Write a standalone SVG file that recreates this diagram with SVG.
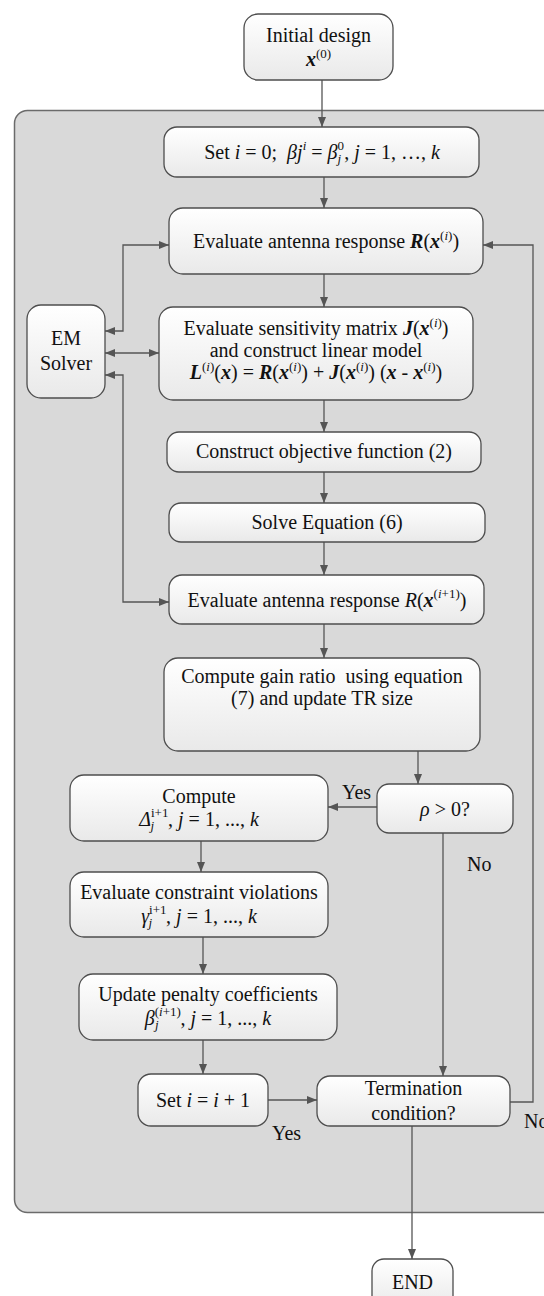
<svg xmlns="http://www.w3.org/2000/svg" width="544" height="1296" viewBox="0 0 544 1296">
<style>
.t{font-family:"Liberation Serif","Times New Roman",serif;font-size:20px;fill:#111;}
.s{font-size:13px;}
.bi{font-weight:bold;font-style:italic;}
.i{font-style:italic;}
.node rect{fill:url(#g);stroke:#4d4d4d;stroke-width:1.3;}
.c path{fill:none;stroke:#555;stroke-width:1.3;}
.e{marker-end:url(#ah);}
.b{marker-start:url(#ah);marker-end:url(#ah);}
</style>
<defs>
<linearGradient id="g" x1="0" y1="0" x2="0" y2="1">
<stop offset="0" stop-color="#ffffff"/>
<stop offset="1" stop-color="#e9e9e9"/>
</linearGradient>
<marker id="ah" viewBox="0 0 10 8" refX="10" refY="4" markerWidth="10" markerHeight="8" orient="auto-start-reverse" markerUnits="userSpaceOnUse">
<path d="M0,0 L10,4 L0,8 z" fill="#555"/>
</marker>
</defs>
<rect id="panel" x="14.5" y="110.5" width="560" height="1102" rx="13" fill="#d9d9d9" stroke="#6b6b6b" stroke-width="1.5"/>
<g id="connectors" class="c">
<path class="e" d="M322,80 V127"/>
<path class="e" d="M324,177 V208"/>
<path class="e" d="M324,274 V307"/>
<path class="e" d="M324,400 V432"/>
<path class="e" d="M324,472 V503"/>
<path class="e" d="M324,542 V575"/>
<path class="e" d="M324,624 V658"/>
<path class="e" d="M418,751 V784"/>
<path class="e" d="M377,807 H328"/>
<path class="e" d="M443,833 V1076"/>
<path class="e" d="M201,841 V872"/>
<path class="e" d="M203,937 V974"/>
<path class="e" d="M203,1040 V1074"/>
<path class="e" d="M268,1100 H317"/>
<path class="e" d="M412,1126 V1259"/>
<path class="e" d="M510,1102 H533 V245 H483"/>
<path class="b" d="M105,331 H123 V245 H169"/>
<path class="b" d="M105,353 H159"/>
<path class="b" d="M105,375 H123 V602 H169"/>
</g>
<g id="n_init" class="node"><rect x="244" y="14" width="149" height="66" rx="14"/>
<text class="t" x="318.5" y="42" text-anchor="middle">Initial design</text>
<text class="t" x="318.5" y="66" text-anchor="middle"><tspan class="bi">x</tspan><tspan class="s" dy="-8">(0)</tspan></text></g>
<g id="n_set0" class="node"><rect x="164" y="127" width="315" height="50" rx="13"/>
<text class="t" x="322" y="159" text-anchor="middle" xml:space="preserve">Set <tspan class="i">i</tspan> = 0;  <tspan class="i">βj</tspan><tspan class="s i" dy="-9">i</tspan><tspan dy="9"> = </tspan><tspan class="i">β</tspan><tspan class="s" dy="-9">0</tspan><tspan class="s i" dx="-6.5" dy="13">j</tspan><tspan dy="-4" dx="3">, </tspan><tspan class="i">j</tspan> = 1, …, <tspan class="i">k</tspan></text></g>
<g id="n_eval1" class="node"><rect x="169" y="208" width="314" height="66" rx="14"/>
<text class="t" x="326" y="248" text-anchor="middle">Evaluate antenna response <tspan class="bi">R</tspan>(<tspan class="bi">x</tspan><tspan class="s" dy="-8">(<tspan class="i">i</tspan>)</tspan><tspan dy="8">)</tspan></text></g>
<g id="n_em" class="node"><rect x="27" y="305" width="78" height="93" rx="14"/>
<text class="t" x="66" y="345" text-anchor="middle">EM</text>
<text class="t" x="66" y="370" text-anchor="middle">Solver</text></g>
<g id="n_sens" class="node"><rect x="159" y="307" width="314" height="93" rx="14"/>
<text class="t" x="316" y="335" text-anchor="middle">Evaluate sensitivity matrix <tspan class="bi">J</tspan>(<tspan class="bi">x</tspan><tspan class="s" dy="-8">(<tspan class="i">i</tspan>)</tspan><tspan dy="8">)</tspan></text>
<text class="t" x="316" y="357" text-anchor="middle">and construct linear model</text>
<text class="t" x="316" y="379" text-anchor="middle"><tspan class="bi">L</tspan><tspan class="s" dy="-8">(<tspan class="i">i</tspan>)</tspan><tspan dy="8">(</tspan><tspan class="bi">x</tspan>) = <tspan class="bi">R</tspan>(<tspan class="bi">x</tspan><tspan class="s" dy="-8">(<tspan class="i">i</tspan>)</tspan><tspan dy="8">) + </tspan><tspan class="bi">J</tspan>(<tspan class="bi">x</tspan><tspan class="s" dy="-8">(<tspan class="i">i</tspan>)</tspan><tspan dy="8">) (</tspan><tspan class="bi">x</tspan> - <tspan class="bi">x</tspan><tspan class="s" dy="-8">(<tspan class="i">i</tspan>)</tspan><tspan dy="8">)</tspan></text></g>
<g id="n_obj" class="node"><rect x="167" y="432" width="314" height="40" rx="12"/>
<text class="t" x="324" y="458" text-anchor="middle">Construct objective function (2)</text></g>
<g id="n_solve" class="node"><rect x="169" y="503" width="316" height="39" rx="12"/>
<text class="t" x="327" y="529" text-anchor="middle">Solve Equation (6)</text></g>
<g id="n_eval2" class="node"><rect x="169" y="575" width="315" height="49" rx="13"/>
<text class="t" x="327" y="607" text-anchor="middle">Evaluate antenna response <tspan class="i">R</tspan>(<tspan class="bi">x</tspan><tspan class="s" dy="-9">(<tspan class="i">i</tspan>+1)</tspan><tspan dy="9">)</tspan></text></g>
<g id="n_gain" class="node"><rect x="164" y="658" width="316" height="93" rx="14"/>
<text class="t" x="322" y="683" text-anchor="middle" xml:space="preserve">Compute gain ratio  using equation</text>
<text class="t" x="322" y="705" text-anchor="middle">(7) and update TR size</text></g>
<g id="n_rho" class="node"><rect x="377" y="784" width="136" height="49" rx="12"/>
<text class="t" x="445" y="816" text-anchor="middle"><tspan class="i">ρ</tspan> &gt; 0?</text></g>
<g id="n_compute" class="node"><rect x="70" y="775" width="258" height="66" rx="14"/>
<text class="t" x="199" y="803" text-anchor="middle">Compute</text>
<text class="t" x="199" y="826" text-anchor="middle"><tspan class="i">Δ</tspan><tspan class="s" dy="-9">i+1</tspan><tspan class="s i" dx="-18" dy="13">j</tspan><tspan dx="14" dy="-4">, </tspan><tspan class="i">j</tspan> = 1, ..., <tspan class="i">k</tspan></text></g>
<g id="n_viol" class="node"><rect x="70" y="872" width="258" height="65" rx="14"/>
<text class="t" x="199" y="899" text-anchor="middle">Evaluate constraint violations</text>
<text class="t" x="199" y="923" text-anchor="middle"><tspan class="i">γ</tspan><tspan class="s" dy="-9">i+1</tspan><tspan class="s i" dx="-18" dy="13">j</tspan><tspan dx="14" dy="-4">, </tspan><tspan class="i">j</tspan> = 1, ..., <tspan class="i">k</tspan></text></g>
<g id="n_update" class="node"><rect x="79" y="974" width="258" height="66" rx="14"/>
<text class="t" x="208" y="1001" text-anchor="middle">Update penalty coefficients</text>
<text class="t" x="208" y="1025" text-anchor="middle"><tspan class="i">β</tspan><tspan class="s" dy="-9">(<tspan class="i">i</tspan>+1)</tspan><tspan class="s i" dx="-26" dy="13">j</tspan><tspan dx="22" dy="-4">, </tspan><tspan class="i">j</tspan> = 1, ..., <tspan class="i">k</tspan></text></g>
<g id="n_seti" class="node"><rect x="138" y="1074" width="130" height="52" rx="13"/>
<text class="t" x="203" y="1107" text-anchor="middle">Set <tspan class="i">i</tspan> = <tspan class="i">i</tspan> + 1</text></g>
<g id="n_term" class="node"><rect x="317" y="1076" width="193" height="50" rx="13"/>
<text class="t" x="413.5" y="1095" text-anchor="middle">Termination</text>
<text class="t" x="413.5" y="1120" text-anchor="middle">condition?</text></g>
<g id="n_end" class="node"><rect x="372" y="1259" width="81" height="50" rx="12"/>
<text class="t" x="412.5" y="1289" text-anchor="middle">END</text></g>
<g id="labels">
<text class="t" x="342" y="799">Yes</text>
<text class="t" x="467" y="871">No</text>
<text class="t" x="272" y="1140">Yes</text>
<text class="t" x="524" y="1128">No</text>
</g>
</svg>
